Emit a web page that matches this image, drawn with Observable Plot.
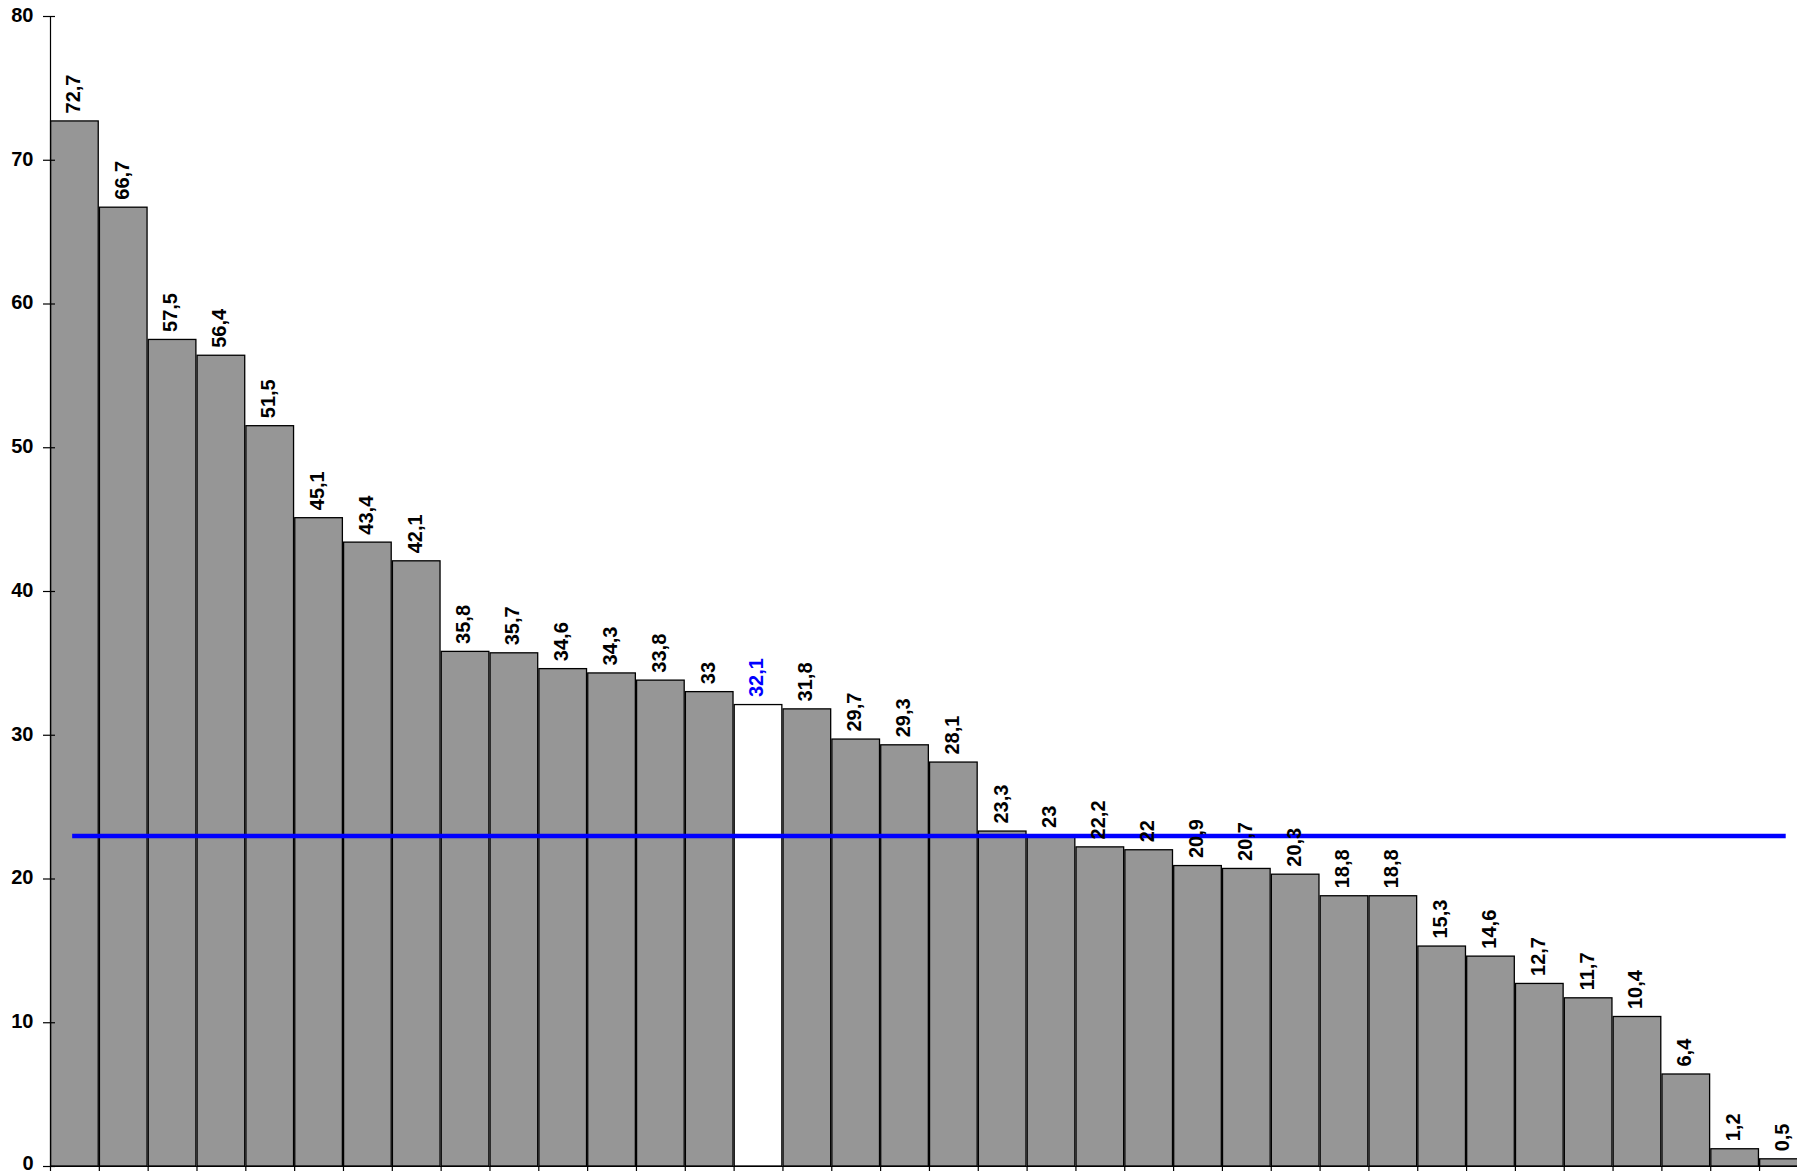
<!DOCTYPE html>
<html>
<head>
<meta charset="utf-8">
<script src="https://cdn.jsdelivr.net/npm/d3@7"></script>
<script src="https://cdn.jsdelivr.net/npm/@observablehq/plot@0.6"></script>
<style>
  html, body { margin: 0; padding: 0; background: #fff; overflow: hidden; }
  #chart svg { display: block; }
</style>
</head>
<body>
<div id="chart"></div>
<script>
const values = [72.7, 66.7, 57.5, 56.4, 51.5, 45.1, 43.4, 42.1, 35.8, 35.7, 34.6, 34.3,
                33.8, 33, 32.1, 31.8, 29.7, 29.3, 28.1, 23.3, 23, 22.2, 22, 20.9,
                20.7, 20.3, 18.8, 18.8, 15.3, 14.6, 12.7, 11.7, 10.4, 6.4, 1.2, 0.5];
const highlightIndex = 14;
const referenceValue = 23;
const yTicks = [0, 10, 20, 30, 40, 50, 60, 70, 80];

const data = values.map((v, i) => ({i, v, label: String(v).replace(".", ","), hl: i === highlightIndex}));
const edges = d3.range(values.length + 1);

const W = 1797, H = 1174;
const bandPx = 48.83;

const chart = Plot.plot({
  width: W,
  height: H,
  marginLeft: 50,
  marginTop: 16,
  marginBottom: 8,
  marginRight: 0,
  style: {fontFamily: "'Liberation Sans', Arial, sans-serif", fontSize: "20px", fontWeight: "bold", background: "#fff", overflow: "hidden"},
  x: {type: "linear", domain: [0, values.length], range: [50, 50 + bandPx * values.length], axis: null},
  y: {domain: [0, 80], axis: null},
  marks: [
    Plot.rect(data, {
      x1: d => d.i, x2: d => d.i + 1, y1: 0, y2: "v",
      fill: d => d.hl ? "#ffffff" : "#969696",
      stroke: "#000", strokeWidth: 1.3, insetLeft: 0.6, insetRight: 0.6
    }),
    Plot.ruleY([referenceValue], {x1: 0.5, x2: values.length - 0.5, stroke: "#0000ff", strokeWidth: 4.5, strokeLinecap: "square"}),
    Plot.text(data, {
      x: d => d.i + 0.5, y: "v", text: "label", rotate: -90, textAnchor: "start",
      dy: -8, dx: -1.5, fontSize: 20, fontWeight: "bold",
      fill: d => d.hl ? "#0000ff" : "#000"
    }),
    Plot.ruleX([0], {stroke: "#000", strokeWidth: 1.2}),
    Plot.ruleY([0], {stroke: "#000", strokeWidth: 1.2}),
    Plot.axisY({ticks: yTicks, tickSize: 7, tickFormat: () => "", stroke: "#000", strokeWidth: 1.2, label: null}),
    Plot.text(yTicks.filter(t => t !== 0), {y: d => d, x: 0, text: d => String(d), textAnchor: "end", dx: -17, dy: -1, fontSize: 20, fontWeight: "bold", fill: "#000"}),
    Plot.text(yTicks.filter(t => t === 0), {y: d => d, x: 0, text: d => String(d), textAnchor: "end", dx: -17, dy: -3, fontSize: 20, fontWeight: "bold", fill: "#000"}),
    Plot.ruleY(yTicks, {x1: 0, x2: 5 / bandPx, stroke: "#000", strokeWidth: 1.2}),
    Plot.axisX({ticks: edges, tickSize: 5, tickFormat: () => "", stroke: "#000", strokeWidth: 1.2, label: null})
  ]
});
document.getElementById("chart").appendChild(chart);
</script>
</body>
</html>
